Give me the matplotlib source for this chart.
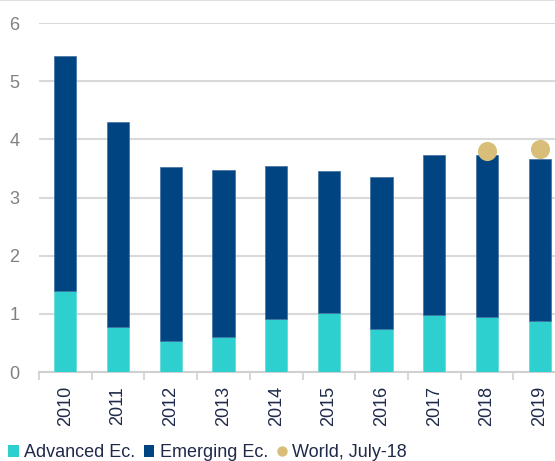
import matplotlib
matplotlib.use("Agg")
import matplotlib.pyplot as plt
from matplotlib.lines import Line2D
from matplotlib.patches import Patch
import numpy as np

plt.rcParams['font.family'] = ['Liberation Sans', 'DejaVu Sans']

years = ["2010", "2011", "2012", "2013", "2014", "2015", "2016", "2017", "2018", "2019"]
advanced = [1.39, 0.77, 0.54, 0.60, 0.91, 1.02, 0.74, 0.98, 0.95, 0.88]
totals = [5.43, 4.30, 3.52, 3.48, 3.55, 3.45, 3.35, 3.73, 3.73, 3.66]
emerging = [t - a for t, a in zip(totals, advanced)]
world_years = ["2018", "2019"]
world = [3.80, 3.84]
yticks = [0, 1, 2, 3, 4, 5, 6]

c_adv = "#2ECFCF"
c_em = "#004481"
c_world = "#D8BE78"
c_text = "#1F2A4A"
c_grey = "#808080"

fig = plt.figure(figsize=(5.55, 4.61), dpi=100)
ax = fig.add_axes([39/555, 89/461, 527/555, 349/461])

x = np.arange(len(years))
w = 0.42
ax.bar(x, advanced, width=w, color=c_adv, edgecolor="#5fd9d9", linewidth=0.5, zorder=3)
ax.bar(x, emerging, width=w, bottom=advanced, color=c_em, edgecolor="#3f6fa0", linewidth=0.5, zorder=3)
wx = [years.index(y) for y in world_years]
ax.scatter(wx, world, s=190, color=c_world, zorder=4, linewidths=0)

ax.set_xlim(-0.5, len(years) - 0.5)
ax.set_ylim(0, 6)
ax.set_yticks(yticks)
ax.set_yticklabels([str(v) for v in yticks], fontsize=13, color=c_grey)
ax.tick_params(axis='y', length=0, pad=14)
ax.yaxis.grid(True, color="#D9D9D9", linewidth=1.5, zorder=0)
ax.set_axisbelow(True)

ax.set_xticks(x)
ax.set_xticklabels(years, rotation=90, fontsize=13, color=c_text)
ax.tick_params(axis='x', which='major', length=0, pad=10)
ax.set_xticks(np.arange(-0.5, len(years), 1.0), minor=True)
ax.tick_params(axis='x', which='minor', length=6, width=1.2, color="#D0D0D0")

for s in ['top', 'right', 'left']:
    ax.spines[s].set_visible(False)
ax.spines['bottom'].set_color("#D0D0D0")
ax.spines['bottom'].set_linewidth(1.5)

handles = [
    Patch(facecolor=c_adv, edgecolor='none', label="Advanced Ec."),
    Patch(facecolor=c_em, edgecolor='none', label="Emerging Ec."),
    Line2D([0], [0], marker='o', color='none', markerfacecolor=c_world,
           markeredgecolor='none', markersize=7.5, label="World, July-18"),
]
leg = fig.legend(handles=handles, loc='lower left', bbox_to_anchor=(-0.005, -0.024), ncol=3,
                 frameon=False, fontsize=13, handlelength=0.6, handleheight=0.6,
                 handletextpad=0.3, columnspacing=0.45, borderaxespad=0.2)
for t in leg.get_texts():
    t.set_color(c_text)

fig.add_artist(Line2D([0, 1], [0.999, 0.999], color="#E0E0E0", linewidth=1.5, transform=fig.transFigure))

fig.savefig("out.png", dpi=100)
